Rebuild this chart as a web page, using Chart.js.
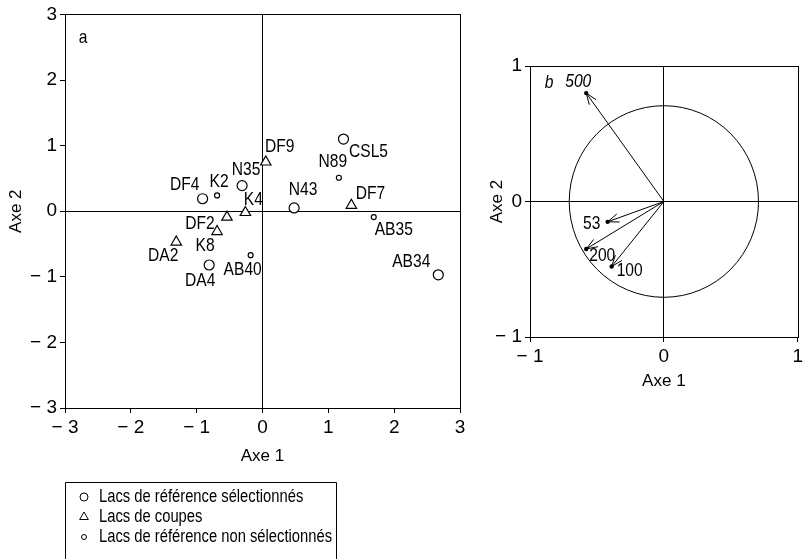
<!DOCTYPE html>
<html>
<head>
<meta charset="utf-8">
<script src="https://cdn.jsdelivr.net/npm/chart.js@4.4.1/dist/chart.umd.min.js"></script>
<style>
    body { margin: 0; background: #fff; width: 806px; height: 559px; overflow: hidden; position: relative; }
    #wrap-a { position: absolute; left: 0; top: 0; width: 475px; height: 559px; }
    #wrap-b { position: absolute; left: 480px; top: 0; width: 326px; height: 393px; }
</style>
</head>
<body>
<div id="wrap-a"><canvas id="chart-a"></canvas></div>
<div id="wrap-b"><canvas id="chart-b"></canvas></div>
<script>
// --- panel a: lake scores on axes 1 and 2 ---
const selNames = ['DF4', 'N35', 'DA4', 'CSL5', 'N43', 'AB34'];
const selX = [-0.91, -0.31, -0.81, 1.23, 0.48, 2.67];
const selY = [0.19, 0.39, -0.82, 1.10, 0.05, -0.97];

const cutNames = ['DF9', 'K4', 'DF2', 'K8', 'DA2', 'DF7'];
const cutX = [0.05, -0.26, -0.54, -0.69, -1.31, 1.35];
const cutY = [0.75, -0.02, -0.09, -0.31, -0.47, 0.09];

const nonNames = ['K2', 'AB40', 'N89', 'AB35'];
const nonX = [-0.69, -0.18, 1.16, 1.69];
const nonY = [0.24, -0.67, 0.51, -0.09];

const seriesLabels = ['Lacs de référence sélectionnés', 'Lacs de coupes', 'Lacs de référence non sélectionnés'];
const ticksA = [-3, -2, -1, 0, 1, 2, 3];

// --- panel b: variable vectors ---
const vecNames = ['500', '53', '200', '100'];
const vecX = [-0.58, -0.42, -0.58, -0.39];
const vecY = [0.80, -0.15, -0.35, -0.48];
const circleR = 0.707;
const ticksB = [-1, 0, 1];

const FONT = '"Liberation Sans", Arial, sans-serif';
const SQUEEZE = 0.82; // no narrow face installed, so squash the hand-drawn text

// label placement next to each point, in pixels
const labelOffsets = {
    DF4: [-18, -14], N35: [4, -16], DA4: [-9, 16], CSL5: [25, 13], N43: [9, -18], AB34: [-27, -13],
    DF9: [14, -15], K4: [8, -13], DF2: [-27, 7], K8: [-12, 14], DA2: [-13, 14], DF7: [19, -12],
    K2: [2, -14], AB40: [-8, 15], N89: [-6, -16], AB35: [20, 13],
    '500': [-8, -11], '53': [-16, 2], '200': [16, 7], '100': [18, 4]
};

const minus = v => v < 0 ? '\u2212 ' + Math.abs(v) : String(v);

function toPoints(xs, ys, names) {
    return xs.map((x, i) => ({ x: x, y: ys[i], name: names[i] }));
}

function narrowText(ctx, text, x, y) {
    ctx.save();
    ctx.translate(x, y);
    ctx.scale(SQUEEZE, 1);
    ctx.fillText(text, 0, 0);
    ctx.restore();
}

function axis(min, max, title, size, titlePad) {
    return {
        type: 'linear', min: min, max: max,
        afterBuildTicks: s => { s.ticks = (max === 3 ? ticksA : ticksB).map(v => ({ value: v })); },
        ticks: { callback: minus, color: '#000', font: { family: FONT, size: 19 }, padding: 3, maxRotation: 0, autoSkip: false },
        grid: {
            color: c => (c.tick && c.tick.value === 0) ? '#000' : 'rgba(0,0,0,0)',
            tickColor: '#000', tickLength: 5, lineWidth: 1
        },
        border: { color: '#000', width: 1 },
        title: { display: true, text: title, color: '#000', font: { family: FONT, size: 17 }, padding: titlePad },
        afterFit: s => { if (s.isHorizontal()) s.height = size; else s.width = size; }
    };
}

const framePlugin = {
    id: 'frame',
    afterDatasetsDraw(chart) {
        const a = chart.chartArea, ctx = chart.ctx;
        ctx.save();
        ctx.strokeStyle = '#000';
        ctx.lineWidth = 1;
        ctx.strokeRect(Math.round(a.left) + 0.5, Math.round(a.top) + 0.5, Math.round(a.right - a.left), Math.round(a.bottom - a.top));
        ctx.restore();
    }
};

const pointLabels = {
    id: 'pointLabels',
    afterDatasetsDraw(chart, args, opts) {
        const ctx = chart.ctx;
        ctx.save();
        ctx.fillStyle = '#000';
        ctx.textAlign = 'center';
        ctx.textBaseline = 'middle';
        chart.data.datasets.forEach((ds, di) => {
            const meta = chart.getDatasetMeta(di);
            ds.data.forEach((p, i) => {
                if (!p.name) return;
                const el = meta.data[i];
                const off = labelOffsets[p.name] || [0, 0];
                ctx.font = (p.italic ? 'italic ' : '') + '19px ' + FONT;
                narrowText(ctx, p.name, el.x + off[0], el.y + off[1]);
            });
        });
        if (opts.letter) {
            ctx.font = (opts.italicLetter ? 'italic ' : '') + '19px ' + FONT;
            narrowText(ctx, opts.letter, chart.chartArea.left + opts.letterPos[0], chart.chartArea.top + opts.letterPos[1]);
        }
        ctx.restore();
    }
};

const boxLegend = {
    id: 'boxLegend',
    afterDraw(chart) {
        const ctx = chart.ctx;
        const left = chart.chartArea.left;
        const top = chart.scales.x.bottom + 12;
        const textX = left + 34;
        ctx.save();
        ctx.font = '18px ' + FONT;
        let w = 0;
        chart.data.datasets.forEach(ds => { w = Math.max(w, ctx.measureText(ds.label).width * SQUEEZE); });
        const right = Math.round(textX + w + 4) + 0.5;
        ctx.strokeStyle = '#000';
        ctx.lineWidth = 1;
        ctx.beginPath();
        ctx.moveTo(left + 0.5, chart.height);
        ctx.lineTo(left + 0.5, top + 0.5);
        ctx.lineTo(right, top + 0.5);
        ctx.lineTo(right, chart.height);
        ctx.stroke();
        chart.data.datasets.forEach((ds, i) => {
            const y = top + 15 + i * 20;
            ctx.fillStyle = '#fff';
            ctx.strokeStyle = '#000';
            Chart.helpers.drawPoint(ctx, { pointStyle: ds.pointStyle, radius: ds.legendRadius, rotation: 0, borderWidth: 1 }, left + 19, y);
            ctx.fillStyle = '#000';
            ctx.textAlign = 'left';
            ctx.textBaseline = 'middle';
            narrowText(ctx, ds.label, textX, y);
        });
        ctx.restore();
    }
};

new Chart(document.getElementById('chart-a'), {
    type: 'scatter',
    data: {
        datasets: [
            { label: seriesLabels[0], data: toPoints(selX, selY, selNames), pointStyle: 'circle', pointRadius: 5, legendRadius: 4,
              pointBackgroundColor: '#fff', pointBorderColor: '#000', pointBorderWidth: 1.2 },
            { label: seriesLabels[1], data: toPoints(cutX, cutY, cutNames), pointStyle: 'triangle', pointRadius: 6, legendRadius: 5,
              pointBackgroundColor: '#fff', pointBorderColor: '#000', pointBorderWidth: 1.2 },
            { label: seriesLabels[2], data: toPoints(nonX, nonY, nonNames), pointStyle: 'circle', pointRadius: 2.5, legendRadius: 2.5,
              pointBackgroundColor: '#fff', pointBorderColor: '#000', pointBorderWidth: 1.2 }
        ]
    },
    options: {
        responsive: true,
        maintainAspectRatio: false,
        animation: false,
        layout: { padding: { left: 0, top: 14, right: 15, bottom: 89 } },
        scales: {
            x: axis(-3, 3, 'Axe 1', 62, { top: 0, bottom: 3 }),
            y: axis(-3, 3, 'Axe 2', 65, { top: 6, bottom: 0 })
        },
        plugins: {
            legend: { display: false },
            tooltip: { enabled: false },
            pointLabels: { letter: 'a', letterPos: [18, 23], italicLetter: false }
        }
    },
    plugins: [framePlugin, pointLabels, boxLegend]
});

// --- panel b ---
const circlePlugin = {
    id: 'circle',
    beforeDatasetsDraw(chart) {
        const xs = chart.scales.x, ys = chart.scales.y, ctx = chart.ctx;
        const cx = xs.getPixelForValue(0), cy = ys.getPixelForValue(0);
        const rx = xs.getPixelForValue(circleR) - cx;
        const ry = cy - ys.getPixelForValue(circleR);
        ctx.save();
        ctx.strokeStyle = '#000';
        ctx.lineWidth = 1;
        ctx.beginPath();
        ctx.ellipse(cx, cy, rx, ry, 0, 0, Math.PI * 2);
        ctx.stroke();
        ctx.restore();
    }
};

const arrowHeads = {
    id: 'arrowHeads',
    afterDatasetsDraw(chart) {
        const ctx = chart.ctx;
        ctx.save();
        ctx.strokeStyle = '#000';
        ctx.lineWidth = 1;
        chart.data.datasets.forEach((ds, di) => {
            const pts = chart.getDatasetMeta(di).data;
            const a = pts[0], b = pts[1];
            const ang = Math.atan2(b.y - a.y, b.x - a.x);
            const len = 12, spread = 0.36;
            ctx.beginPath();
            ctx.moveTo(b.x - len * Math.cos(ang - spread), b.y - len * Math.sin(ang - spread));
            ctx.lineTo(b.x, b.y);
            ctx.lineTo(b.x - len * Math.cos(ang + spread), b.y - len * Math.sin(ang + spread));
            ctx.stroke();
        });
        ctx.restore();
    }
};

new Chart(document.getElementById('chart-b'), {
    type: 'scatter',
    data: {
        datasets: vecNames.map((n, i) => ({
            label: n,
            data: [{ x: 0, y: 0 }, { x: vecX[i], y: vecY[i], name: n, italic: n === '500' }],
            showLine: true,
            borderColor: '#000',
            borderWidth: 1,
            pointRadius: [0, 2.2],
            pointBackgroundColor: '#000',
            pointBorderColor: '#000',
            pointBorderWidth: 0
        }))
    },
    options: {
        responsive: true,
        maintainAspectRatio: false,
        animation: false,
        layout: { padding: { left: 0, top: 66, right: 3, bottom: 0 } },
        scales: {
            x: axis(-1, 1, 'Axe 1', 56, { top: 0, bottom: 1 }),
            y: axis(-1, 1, 'Axe 2', 50, { top: 7, bottom: 0 })
        },
        plugins: {
            legend: { display: false },
            tooltip: { enabled: false },
            pointLabels: { letter: 'b', letterPos: [19, 17], italicLetter: true }
        }
    },
    plugins: [circlePlugin, framePlugin, arrowHeads, pointLabels]
});
</script>
</body>
</html>
